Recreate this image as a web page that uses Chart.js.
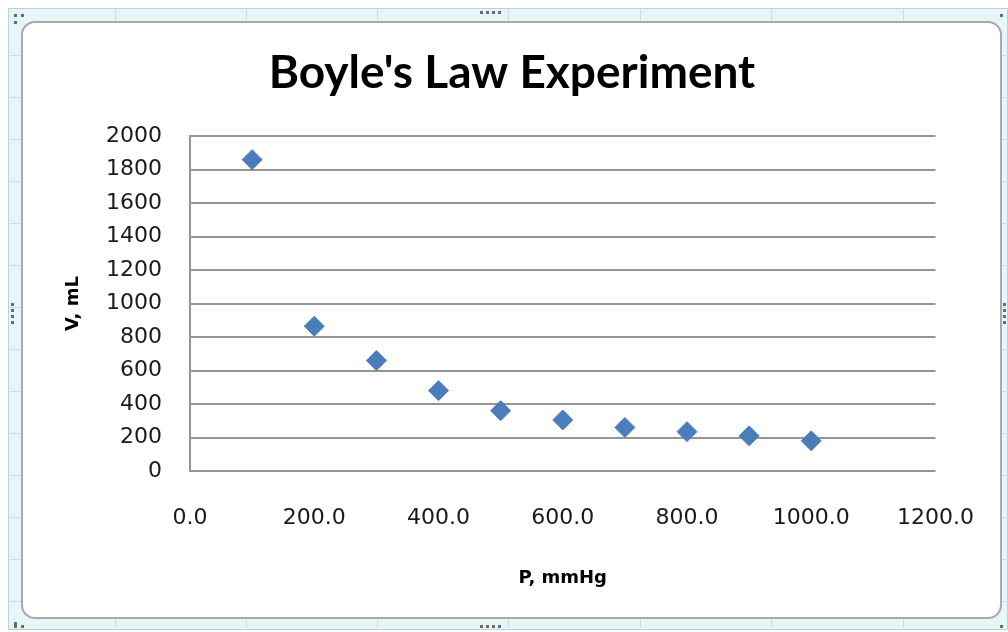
<!DOCTYPE html>
<html>
<head>
<meta charset="utf-8">
<script src="https://cdn.jsdelivr.net/npm/chart.js@4"></script>
<style>
  html, body { margin: 0; padding: 0; background: #ffffff; }
  #wrap { position: relative; width: 1008px; height: 632px; overflow: hidden; }
  #sheet { position: absolute; left: 8px; top: 8px; width: 1000px; height: 622px;
           background: #e6f5f7; border: 1px solid #b9d3d8; box-sizing: border-box; }
  .vl { position: absolute; top: 8px; width: 1px; height: 622px; background: #c8dfe3; }
  .hl { position: absolute; left: 8px; width: 1000px; height: 1px; background: #c8dfe3; }
  #card { position: absolute; left: 21px; top: 21px; width: 981px; height: 598px;
          background: #ffffff; border: 2px solid #a9a9a9; border-radius: 14px; box-sizing: border-box; }
  .dot { position: absolute; width: 3px; height: 3px; background: #6b6b6b; }
  canvas { position: absolute; left: 0; top: 0; }
</style>
</head>
<body>
<div id="wrap">
  <div id="sheet"></div>
  <div id="grid"></div>
  <div id="card"></div>
  <div id="dots"></div>
  <canvas id="c" width="1008" height="632"></canvas>
</div>
<script>
// ---- data ----
const pressures = [100, 200, 300, 400, 500, 600, 700, 800, 900, 1000];
const volumes   = [1860, 865, 660, 480, 360, 305, 260, 235, 210, 180];
const chartTitle = "Boyle's Law Experiment";
const xTitle = "P, mmHg";
const yTitle = "V, mL";
const xTickMin = 0, xTickMax = 1200, xTickStep = 200;
const yTickMin = 0, yTickMax = 2000, yTickStep = 200;

// ---- spreadsheet decoration ----
(function () {
  const grid = document.getElementById('grid');
  [115, 246, 377, 508, 640, 771, 903].forEach(x => {
    const d = document.createElement('div'); d.className = 'vl'; d.style.left = x + 'px'; grid.appendChild(d);
  });
  for (let y = 55; y < 630; y += 42) {
    const d = document.createElement('div'); d.className = 'hl'; d.style.top = y + 'px'; grid.appendChild(d);
  }
  const dots = document.getElementById('dots');
  const pts = [[14,14],[21,14],[14,21],[1000,14],[14,622],[21,625],[14,625],[1000,625],
               [480,11],[486,11],[492,11],[498,11],[480,625],[486,625],[492,625],[498,625],
               [11,303],[11,309],[11,315],[11,321],[1003,303],[1003,309],[1003,315],[1003,321]];
  pts.forEach(p => {
    const d = document.createElement('div'); d.className = 'dot';
    d.style.left = p[0] + 'px'; d.style.top = p[1] + 'px'; dots.appendChild(d);
  });
})();

const points = pressures.map((p, i) => ({ x: p, y: volumes[i] }));
const gridColor = '#959595';
const tickFont = { family: 'DejaVu Sans', size: 22 };

new Chart(document.getElementById('c'), {
  type: 'scatter',
  data: {
    datasets: [{
      data: points,
      pointStyle: 'rectRot',
      pointRadius: 10,
      pointHoverRadius: 10,
      backgroundColor: '#4a7ebb',
      borderColor: '#4a7ebb',
      borderWidth: 1,
      showLine: false
    }]
  },
  options: {
    responsive: false,
    devicePixelRatio: 1,
    animation: false,
    layout: { padding: { left: 22, right: 6, top: 22, bottom: 39 } },
    plugins: {
      legend: { display: false },
      tooltip: { enabled: false },
      title: {
        display: true,
        text: chartTitle,
        color: '#000000',
        font: { family: 'Lato', weight: 'bold', size: 46 },
        padding: { top: 24, bottom: 35 }
      }
    },
    scales: {
      x: {
        type: 'linear',
        min: xTickMin, max: xTickMax,
        ticks: {
          stepSize: xTickStep,
          color: '#1a1a1a',
          font: tickFont,
          padding: 34,
          maxRotation: 0,
          callback: v => Number(v).toFixed(1)
        },
        grid: { display: false, drawTicks: false },
        border: { display: false },
        title: {
          display: true, text: xTitle, color: '#000000',
          font: { family: 'DejaVu Sans', weight: 'bold', size: 18 },
          padding: { top: 36, bottom: 4 }
        },
        afterFit: s => { s.height = 632 - 39 - 471; }
      },
      y: {
        type: 'linear',
        min: yTickMin, max: yTickMax,
        ticks: {
          stepSize: yTickStep,
          color: '#1a1a1a',
          font: tickFont,
          padding: 28,
          callback: v => String(v)
        },
        grid: { color: gridColor, lineWidth: 2, drawTicks: false },
        border: { display: true, color: gridColor, width: 2 },
        title: {
          display: true, text: yTitle, color: '#000000',
          font: { family: 'DejaVu Sans', weight: 'bold', size: 18 },
          padding: { top: 41, bottom: 0 }
        },
        afterFit: s => { s.width = 190 - 22; }
      },
      yRight: {
        type: 'linear',
        position: 'right',
        display: true,
        ticks: { display: false },
        grid: { display: false, drawTicks: false },
        border: { display: false },
        afterFit: s => { s.width = 1002 - 936; }
      }
    }
  }
});
</script>
</body>
</html>
